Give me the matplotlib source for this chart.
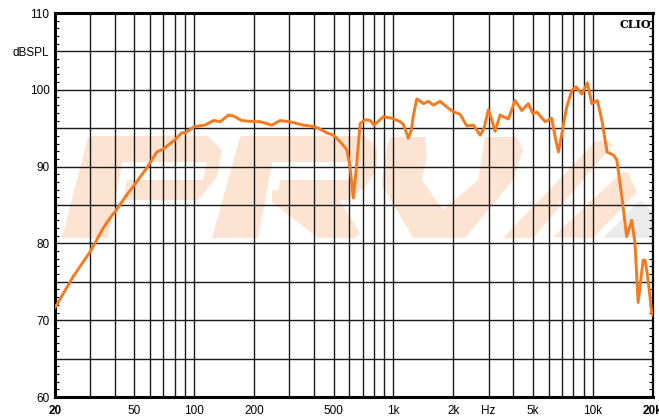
import numpy as np
import matplotlib
matplotlib.use("Agg")
import matplotlib.pyplot as plt
from matplotlib.patches import Polygon
from matplotlib.transforms import Affine2D

# frequency response (Hz, dB SPL)
freq = [20, 20.4, 24.7, 30, 34.9, 38.5, 40, 45.8, 50, 57.7, 64.8, 70, 80, 86.5, 90,
        100, 113, 125, 135, 148, 157, 173, 200, 214, 245, 270, 300, 353, 381, 420,
        462, 500, 550, 583, 605, 629, 654, 680, 720, 763, 800, 889, 980, 1079,
        1120, 1187, 1230, 1259, 1308, 1333, 1413, 1497, 1586, 1713, 1885, 2000, 2159,
        2333, 2518, 2721, 2849, 2993, 3114, 3234, 3428, 3773, 4075, 4405, 4753,
        5000, 5250, 5769, 6222, 6470, 6730, 7000, 7410, 7850, 8250, 8810, 9400,
        9890, 10550, 11100, 11800, 12700, 13200, 14000, 14800, 15700, 16300,
        16900, 17900, 18300, 18800, 19800, 20000]
spl = [71.7, 72.0, 75.7, 78.9, 82.0, 83.6, 84.1, 86.3, 87.6, 89.8, 91.9, 92.3, 93.5,
       94.4, 94.4, 95.2, 95.4, 96.0, 95.85, 96.7, 96.6, 96.0, 95.85, 95.85, 95.4,
       96.0, 95.85, 95.4, 95.3, 95.0, 94.4, 94.1, 93.0, 92.2, 90.0, 85.9, 90.4,
       95.6, 96.1, 96.0, 95.4, 96.5, 96.3, 95.85, 95.5, 93.7, 94.8, 96.7, 98.8,
       98.7, 98.2, 98.5, 98.0, 98.5, 97.6, 97.15, 96.8, 95.3, 95.4, 94.1, 95.0, 97.4,
       96.1, 94.6, 96.7, 96.2, 98.6, 97.3, 98.2, 96.9, 97.1, 95.85, 96.3, 93.9,
       91.9, 94.3, 97.8, 99.9, 100.4, 99.45, 100.9, 98.2, 98.6, 96.1, 91.9, 91.5,
       90.9, 86.1, 80.9, 83.0, 80.0, 72.3, 77.8, 77.8, 76.0, 70.9, 70.7]

x_grid = [20, 30, 40, 50, 60, 70, 80, 90, 100, 200, 300, 400, 500, 600, 700, 800,
          900, 1000, 2000, 3000, 4000, 5000, 6000, 7000, 8000, 9000, 10000, 20000]
x_labels = {20: "20", 50: "50", 100: "100", 200: "200", 500: "500", 1000: "1k",
            2000: "2k", 3000: "Hz", 5000: "5k", 10000: "10k", 20000: "20k"}
y_grid = [60, 65, 70, 75, 80, 85, 90, 95, 100, 105, 110]
y_labels = {60: "60", 70: "70", 80: "80", 90: "90", 100: "100", 105: "dBSPL", 110: "110"}

plt.rcParams['font.family'] = ['Liberation Sans', 'DejaVu Sans']

fig = plt.figure(figsize=(6.59, 4.2), dpi=100)
ax = fig.add_axes([55 / 659, 23 / 420, 597.7 / 659, 384 / 420])

# faint PRV logo behind the grid, drawn in reference-pixel units
px_to_axes = Affine2D().scale(1 / 597.7, -1 / 384).translate(-55 / 597.7, 397 / 384) + ax.transAxes
logo = [
    [(62, 238), (88, 137), (127, 137), (108, 238)],
    [(92, 136), (208, 136), (222, 150), (217, 177), (198, 200), (123, 200),
     (127, 180), (203, 180), (207, 162), (85, 162)],
    [(212, 238), (240, 137), (277, 137), (258, 238)],
    [(242, 136), (365, 136), (377, 148), (377, 167), (367, 185), (348, 200),
     (277, 200), (280, 180), (355, 180), (358, 162), (237, 162)],
    [(272, 190), (333, 190), (360, 233), (355, 238), (318, 238), (272, 202)],
    [(390, 137), (425, 137), (427, 155), (422, 180), (443, 210), (478, 180),
     (485, 137), (517, 137), (523, 150), (513, 180), (465, 238), (413, 238),
     (382, 185), (385, 155)],
    [(503, 238), (533, 238), (613, 145), (605, 140), (595, 142)],
    [(553, 237), (622, 172), (628, 172), (637, 192), (593, 238)],
]
for pts in logo:
    ax.add_patch(Polygon(pts, closed=True, transform=px_to_axes, facecolor='#fde4d2',
                         edgecolor='none', zorder=0.5))
ax.add_patch(Polygon([(603, 238), (640, 200), (653, 212), (653, 238)], closed=True,
                     transform=px_to_axes, facecolor='#ebebeb', edgecolor='none', zorder=0.5))

ax.plot(freq, spl, color='#f57a1f', lw=2.1, solid_joinstyle='round', zorder=3)

ax.set_xscale('log')
ax.set_xlim(20, 20000)
ax.set_ylim(60, 110)

ax.xaxis.set_major_locator(matplotlib.ticker.FixedLocator(x_grid))
ax.xaxis.set_minor_locator(matplotlib.ticker.NullLocator())
ax.set_xticklabels([x_labels.get(f, "") for f in x_grid])
ax.set_yticks(y_grid)
ax.set_yticklabels([y_labels.get(v, "") for v in y_grid])
ax.yaxis.set_minor_locator(matplotlib.ticker.MultipleLocator(1))

ax.grid(True, which='major', color='#1a1a1a', lw=1.0)
ax.tick_params(axis='x', which='major', length=0, pad=6, labelsize=8.5)
ax.tick_params(axis='y', which='major', length=0, pad=4, labelsize=8.5)
ax.tick_params(axis='y', which='minor', direction='in', length=3, width=0.8,
               left=True, right=True)
for lbl in ax.get_xticklabels():
    if lbl.get_text() in ("20", "20k"):
        lbl.set_fontweight('bold')

for side in ['left', 'bottom', 'top']:
    ax.spines[side].set_linewidth(2.2)
ax.spines['right'].set_linewidth(1.6)

ax.text(0.998, 0.985, "CLIO", transform=ax.transAxes, ha='right', va='top',
        fontsize=8, fontweight='bold', family='DejaVu Serif', zorder=4)

fig.savefig("out.png", dpi=100)
